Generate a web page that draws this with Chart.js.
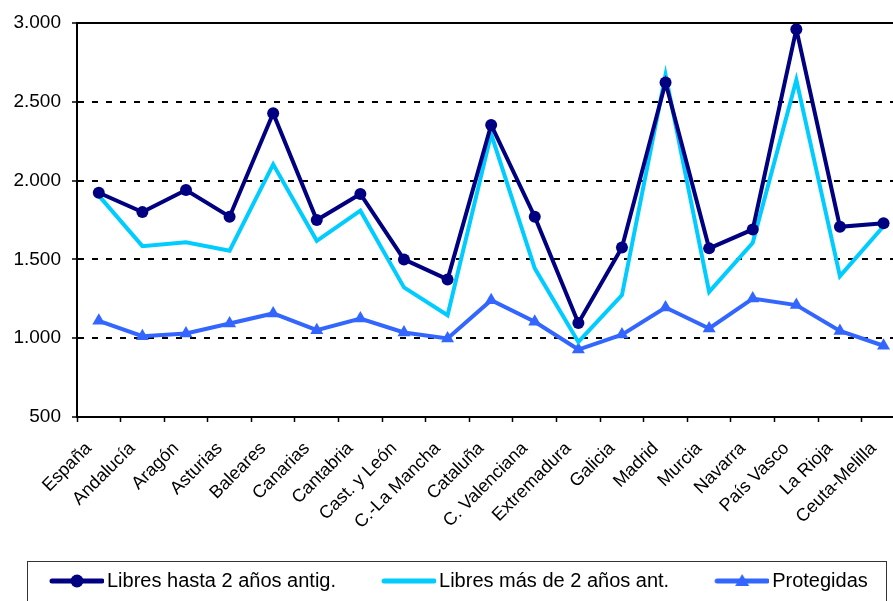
<!DOCTYPE html>
<html>
<head>
<meta charset="utf-8">
<script src="https://cdn.jsdelivr.net/npm/chart.js@4.4.1/dist/chart.umd.min.js"></script>
<style>
  html, body { margin: 0; padding: 0; background: #fff; overflow: hidden; }
  #lineChart { position: absolute; left: 0; top: 0; }
</style>
</head>
<body>
<canvas id="lineChart" width="915" height="601"></canvas>
<script>
// Datos
var regiones = ["España", "Andalucía", "Aragón", "Asturias", "Baleares", "Canarias", "Cantabria",
  "Cast. y León", "C.-La Mancha", "Cataluña", "C. Valenciana", "Extremadura", "Galicia", "Madrid",
  "Murcia", "Navarra", "País Vasco", "La Rioja", "Ceuta-Melilla"];
var libresHasta2 = [1923, 1800, 1940, 1771, 2427, 1750, 1915, 1500, 1373, 2353, 1771, 1097, 1576, 2622, 1570, 1690, 2961, 1707, 1729];
var libresMas2 = [1905, 1584, 1608, 1555, 2103, 1618, 1809, 1322, 1146, 2295, 1443, 976, 1273, 2671, 1294, 1605, 2639, 1394, 1710];
var protegidas = [1110, 1013, 1030, 1093, 1157, 1051, 1125, 1036, 998, 1241, 1104, 928, 1023, 1195, 1062, 1252, 1210, 1046, 952];
var etiquetasY = [500, 1000, 1500, 2000, 2500, 3000];

var fuente = "'Liberation Sans', Arial, sans-serif";

function miles(v) {
  return String(v).replace(/\B(?=(\d{3})+(?!\d))/g, '.');
}

// Iconos de la leyenda: línea con marcador (parte izquierda transparente)
function iconoLeyenda(color, marcador) {
  var c = document.createElement('canvas');
  c.width = 99; c.height = 16;
  var g = c.getContext('2d');
  g.strokeStyle = color; g.fillStyle = color;
  g.lineWidth = 5; g.lineCap = 'round';
  g.beginPath(); g.moveTo(47, 8); g.lineTo(97, 8); g.stroke();
  if (marcador === 'circle') {
    g.beginPath(); g.arc(72, 8, 6.5, 0, Math.PI * 2); g.fill();
  } else if (marcador === 'triangle') {
    g.beginPath(); g.moveTo(72, 1); g.lineTo(79, 13); g.lineTo(65, 13); g.closePath(); g.fill();
  }
  return c;
}
var iconos = [iconoLeyenda('#000080', 'circle'), iconoLeyenda('#00CCFF', null), iconoLeyenda('#3366FF', 'triangle')];

// Marco superior del área de datos y recuadro de la leyenda
var marco = {
  id: 'marco',
  afterDraw: function (chart) {
    var ctx = chart.ctx, a = chart.chartArea, lg = chart.legend;
    ctx.save();
    ctx.strokeStyle = '#000';
    ctx.lineWidth = 2;
    ctx.beginPath(); ctx.moveTo(a.left, a.top); ctx.lineTo(a.right, a.top); ctx.stroke();
    ctx.lineWidth = 1;
    ctx.strokeStyle = '#333';
    ctx.strokeRect(27.5, lg.top - 1.5, 859, 100);
    ctx.restore();
  }
};

var ctxL = document.getElementById("lineChart").getContext('2d');

var myLineChart = new Chart(ctxL, {
  type: 'line',
  data: {
    labels: regiones,
    datasets: [{
      label: "Libres hasta 2 años antig.",
      data: libresHasta2,
      borderColor: '#000080',
      backgroundColor: '#000080',
      borderWidth: 4,
      pointStyle: 'circle',
      pointRadius: 6,
      pointBorderWidth: 0,
      tension: 0
    },
    {
      label: "Libres más de 2 años ant.",
      data: libresMas2,
      borderColor: '#00CCFF',
      backgroundColor: '#00CCFF',
      borderWidth: 4,
      pointRadius: 0,
      tension: 0
    },
    {
      label: "Protegidas",
      data: protegidas,
      borderColor: '#3366FF',
      backgroundColor: '#3366FF',
      borderWidth: 4,
      pointStyle: 'triangle',
      pointRadius: 7.5,
      pointBorderWidth: 0,
      tension: 0
    }]
  },
  options: {
    responsive: false,
    animation: false,
    layout: { padding: { left: 4, top: 23, right: 0, bottom: 0 } },
    scales: {
      x: {
        offset: true,
        grid: {
          offset: true,
          drawOnChartArea: false,
          drawTicks: true,
          tickLength: 5,
          tickColor: '#000',
          tickWidth: 1.5
        },
        border: { display: true, color: '#000', width: 2 },
        ticks: {
          autoSkip: false,
          minRotation: 45,
          maxRotation: 45,
          padding: 16,
          labelOffset: -10,
          color: '#000',
          font: { family: fuente, size: 18 }
        },
        afterFit: function (scale) { scale.height = 146; }
      },
      y: {
        min: 500,
        max: 3000,
        afterBuildTicks: function (scale) {
          scale.ticks = etiquetasY.map(function (v) { return { value: v }; });
        },
        grid: {
          color: '#000',
          lineWidth: 2,
          drawTicks: true,
          tickLength: 5,
          tickColor: '#000',
          tickWidth: 1.5,
          tickBorderDash: []
        },
        border: { display: true, color: '#000', width: 2, dash: [6, 8] },
        ticks: {
          padding: 11,
          color: '#000',
          font: { family: fuente, size: 19 },
          callback: function (v) { return miles(v); }
        },
        afterFit: function (scale) { scale.width = 73; }
      }
    },
    plugins: {
      legend: {
        position: 'bottom',
        align: 'start',
        labels: {
          usePointStyle: true,
          pointStyleWidth: 85,
          padding: 8,
          color: '#000',
          font: { family: fuente, size: 20 },
          generateLabels: function (chart) {
            var items = Chart.defaults.plugins.legend.labels.generateLabels(chart);
            items.forEach(function (it, i) { it.pointStyle = iconos[i]; });
            return items;
          }
        }
      },
      tooltip: { mode: 'index', intersect: false }
    }
  },
  plugins: [marco]
});
</script>
</body>
</html>
